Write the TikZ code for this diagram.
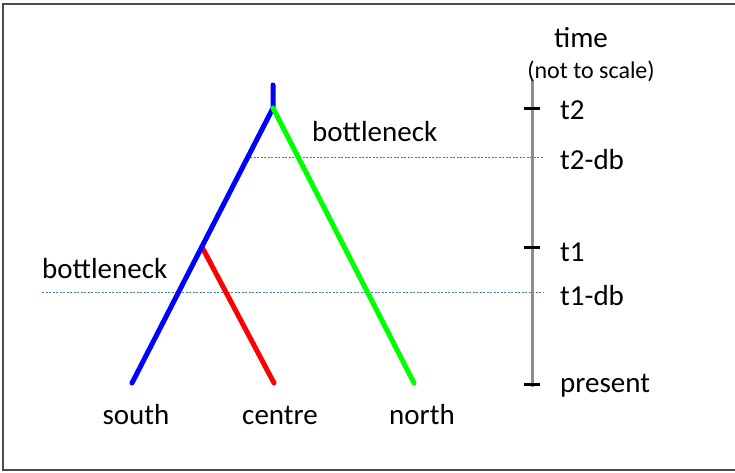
\documentclass[tikz,border=0pt]{standalone}
\usepackage{fontspec}
\setmainfont{Carlito}
\usetikzlibrary{positioning}

\begin{document}
\begin{tikzpicture}[
  x=1pt,y=-1pt,
  font=\fontsize{29}{32}\selectfont,
  small/.style={font=\fontsize{24}{27}\selectfont},
  lbl/.style={anchor=west,inner sep=0pt},
  branch/.style={line width=5pt,line cap=round},
  cut/.style={draw=cutblue,line width=0.9pt,dash pattern=on 2pt off 1.5pt},
  tick/.style={line width=3pt}
]
\definecolor{cutblue}{RGB}{68,114,196}
\definecolor{lime}{RGB}{0,255,0}
\useasboundingbox (0,0) rectangle (735,472);
% ---------------- frame ----------------
\draw[line width=1.6pt,black!70] (735,4) -- (3,4) -- (3,470) -- (735,470);

% ---------------- bottleneck cuts ----------------
\coordinate (c2a) at (250,157); \coordinate (c2b) at (543,157);
\coordinate (c1a) at (42,292);  \coordinate (c1b) at (543,292);
\draw[cut] (c2a) -- (c2b);
\draw[cut] (c1a) -- (c1b);

% ---------------- tree ----------------
\coordinate (root) at (273,85);
\coordinate (top) at (273,108);
\coordinate (split) at (202,247);
\coordinate (s) at (132,383);
\coordinate (c) at (274,383);
\coordinate (n) at (414,383);
\draw[branch,red] (split) -- (c);
\draw[branch,blue] (root) -- (top) -- (s);
\draw[branch,lime] (top) -- (n);
\node (south) at (136,415) {south};
\node (centre) at (280,415) {centre};
\node (north) at (422,415) {north};
\node[lbl] (bn2) at (312,132) {bottleneck};
\node[lbl] (bn1) at (42,269) {bottleneck};

% ---------------- time axis ----------------
\coordinate (ax0) at (532,80);
\coordinate (ax1) at (532,387);
\draw[line width=3pt,black!45] (ax0) -- (ax1);
\foreach \y in {108,247,384}
  \draw[tick] (524,\y) -- (540,\y);
\node (time) at (581,38) {time};
\node[small] (scale) at (591,71) {(not to scale)};
\node[lbl] (t2) at (560,110) {t2};
\node[lbl] (t2db) at (560,160) {t2-db};
\node[lbl] (t1) at (560,252) {t1};
\node[lbl] (t1db) at (560,296) {t1-db};
\node[lbl] (now) at (560,386) {present};
\end{tikzpicture}
\end{document}
